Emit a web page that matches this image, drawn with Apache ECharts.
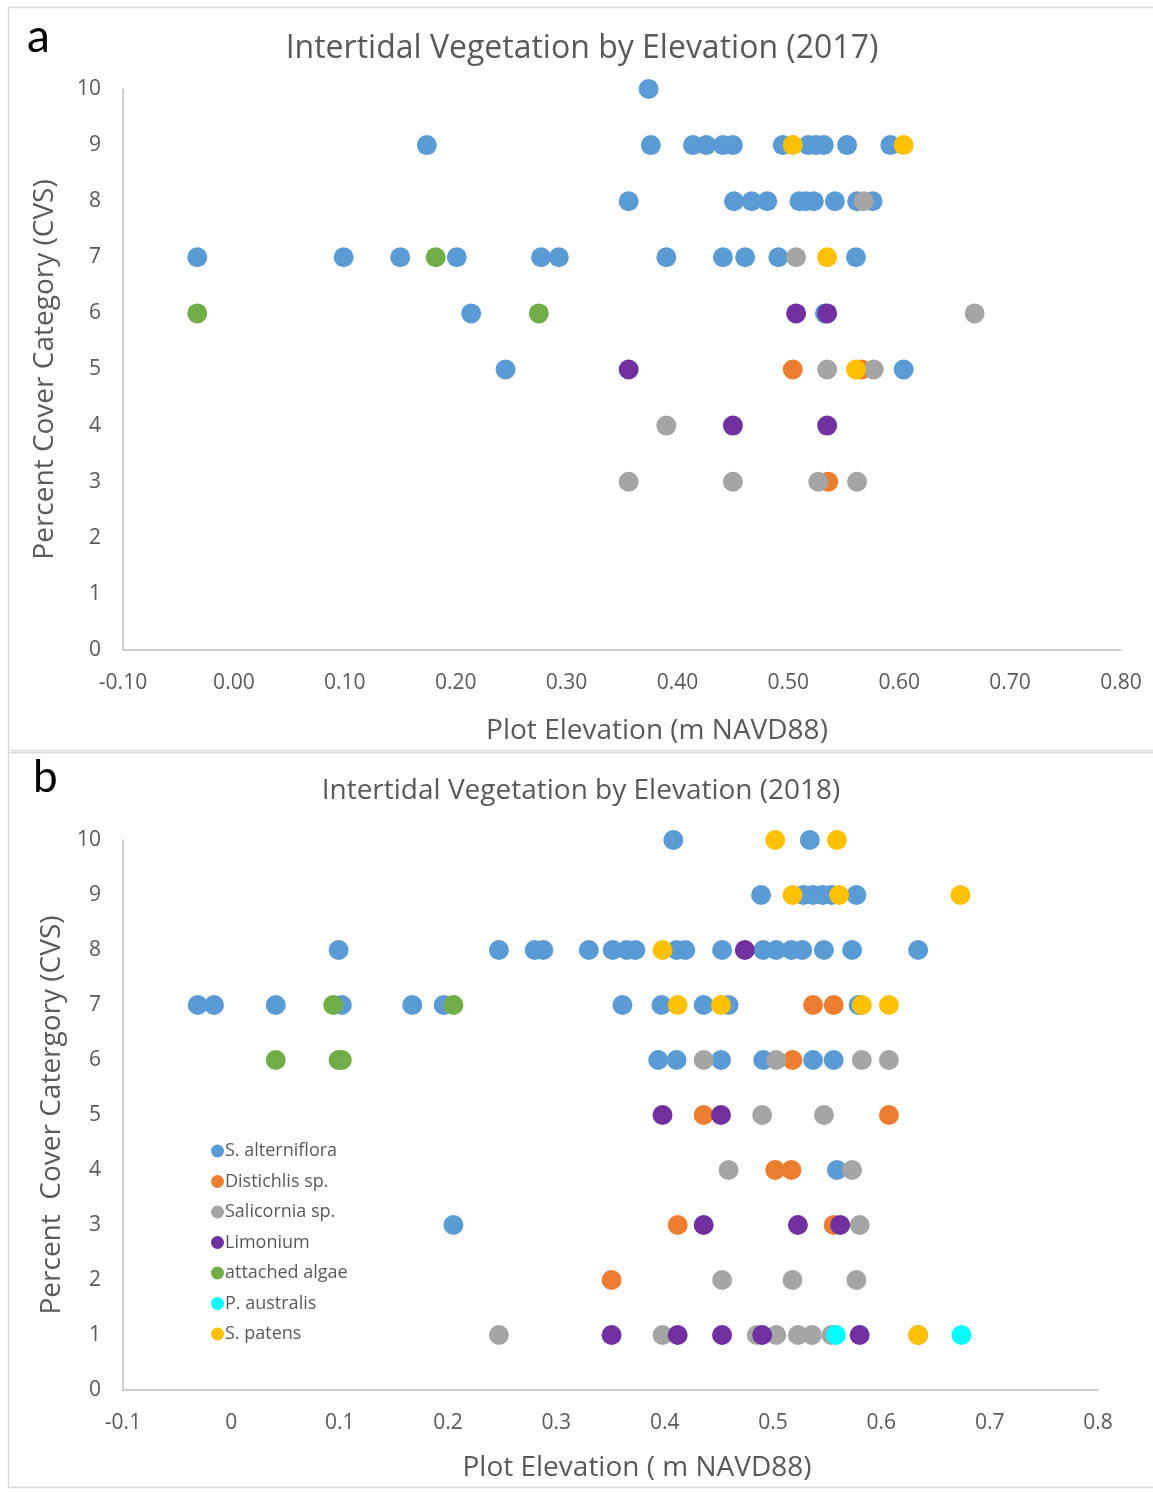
<!DOCTYPE html>
<html>
<head>
<meta charset="utf-8">
<script src="https://cdn.jsdelivr.net/npm/echarts@6/dist/echarts.min.js"></script>
<style>
  html, body { margin: 0; padding: 0; background: #ffffff; }
  #chart { width: 1153px; height: 1492px; }
</style>
</head>
<body>
<div id="chart"></div>
<script>
// Species names (legend order = drawing order)
const speciesNames = ['S. alterniflora', 'Distichlis sp.', 'Salicornia sp.', 'Limonium', 'attached algae', 'P. australis', 'S. patens'];
const speciesColors = ['#5B9BD5', '#ED7D31', '#A5A5A5', '#7030A0', '#70AD47', '#00FFFF', '#FFC000'];

// Axis ticks
const yTicks = [0, 1, 2, 3, 4, 5, 6, 7, 8, 9, 10];
const xTicks = [-0.1, 0, 0.1, 0.2, 0.3, 0.4, 0.5, 0.6, 0.7, 0.8];

// 2017 survey: [elevation (m NAVD88), cover class]
const alterniflora2017 = [
  [0.374, 10],
  [0.174, 9], [0.376, 9], [0.414, 9], [0.426, 9], [0.441, 9], [0.450, 9], [0.495, 9], [0.518, 9], [0.525, 9], [0.532, 9], [0.553, 9], [0.592, 9],
  [0.356, 8], [0.451, 8], [0.467, 8], [0.481, 8], [0.510, 8], [0.516, 8], [0.523, 8], [0.542, 8], [0.562, 8], [0.576, 8],
  [-0.033, 7], [0.099, 7], [0.150, 7], [0.201, 7], [0.277, 7], [0.293, 7], [0.390, 7], [0.441, 7], [0.461, 7], [0.491, 7], [0.561, 7],
  [0.214, 6], [0.533, 6],
  [0.245, 5], [0.604, 5]
];
const distichlis2017 = [[0.504, 5], [0.566, 5], [0.536, 3]];
const salicornia2017 = [[0.568, 8], [0.507, 7], [0.668, 6], [0.535, 5], [0.577, 5], [0.390, 4], [0.356, 3], [0.450, 3], [0.527, 3], [0.562, 3]];
const limonium2017 = [[0.507, 6], [0.535, 6], [0.356, 5], [0.450, 4], [0.535, 4]];
const algae2017 = [[0.182, 7], [-0.033, 6], [0.275, 6]];
const australis2017 = [];
const patens2017 = [[0.504, 9], [0.604, 9], [0.535, 7], [0.561, 5]];

// 2018 survey
const alterniflora2018 = [
  [0.408, 10], [0.534, 10],
  [0.489, 9], [0.528, 9], [0.537, 9], [0.546, 9], [0.554, 9], [0.577, 9],
  [0.099, 8], [0.247, 8], [0.280, 8], [0.288, 8], [0.330, 8], [0.352, 8], [0.365, 8], [0.373, 8], [0.411, 8], [0.419, 8], [0.453, 8],
  [0.491, 8], [0.503, 8], [0.517, 8], [0.527, 8], [0.547, 8], [0.573, 8], [0.634, 8],
  [-0.031, 7], [-0.016, 7], [0.041, 7], [0.102, 7], [0.167, 7], [0.196, 7], [0.361, 7], [0.397, 7], [0.436, 7], [0.459, 7], [0.579, 7],
  [0.394, 6], [0.411, 6], [0.452, 6], [0.491, 6], [0.537, 6], [0.556, 6],
  [0.559, 4],
  [0.205, 3]
];
const distichlis2018 = [[0.537, 7], [0.556, 7], [0.518, 6], [0.436, 5], [0.607, 5], [0.502, 4], [0.517, 4], [0.412, 3], [0.556, 3], [0.351, 2]];
const salicornia2018 = [
  [0.436, 6], [0.503, 6], [0.582, 6], [0.607, 6],
  [0.490, 5], [0.547, 5],
  [0.459, 4], [0.573, 4],
  [0.580, 3],
  [0.453, 2], [0.518, 2], [0.577, 2],
  [0.247, 1], [0.398, 1], [0.485, 1], [0.503, 1], [0.523, 1], [0.536, 1], [0.554, 1], [0.634, 1]
];
const limonium2018 = [[0.474, 8], [0.398, 5], [0.452, 5], [0.436, 3], [0.523, 3], [0.562, 3], [0.351, 1], [0.412, 1], [0.453, 1], [0.490, 1], [0.580, 1]];
const algae2018 = [[0.094, 7], [0.205, 7], [0.041, 6], [0.099, 6], [0.102, 6]];
const australis2018 = [[0.558, 1], [0.674, 1]];
const patens2018 = [[0.502, 10], [0.559, 10], [0.518, 9], [0.561, 9], [0.673, 9], [0.398, 8], [0.412, 7], [0.452, 7], [0.582, 7], [0.607, 7], [0.634, 1]];

const data2017 = [alterniflora2017, distichlis2017, salicornia2017, limonium2017, algae2017, australis2017, patens2017];
const data2018 = [alterniflora2018, distichlis2018, salicornia2018, limonium2018, algae2018, australis2018, patens2018];

const FONT = '"Open Sans", Lato, sans-serif';
const TXT = '#595959';
const AXIS_LINE = '#BFBFBF';

function makeSeries(sets, idx) {
  return sets.map((pts, i) => ({
    name: speciesNames[i],
    type: 'scatter',
    xAxisIndex: idx,
    yAxisIndex: idx,
    symbol: 'circle',
    symbolSize: 20,
    itemStyle: { color: speciesColors[i], opacity: 1 },
    emphasis: { disabled: true },
    data: pts
  }));
}

function xAxisCfg(gridIndex, digits, name, nameGap, padLeft) {
  return {
    type: 'value', gridIndex: gridIndex,
    min: xTicks[0], max: xTicks[xTicks.length - 1], interval: 0.1,
    axisLine: { show: true, onZero: false, lineStyle: { color: AXIS_LINE, width: 1.5 } },
    axisTick: { show: false },
    splitLine: { show: false },
    axisLabel: {
      color: TXT, fontFamily: FONT, fontSize: 21, margin: 23,
      formatter: v => {
        const r = Math.round(v * 10) / 10;
        if (digits === 1 && r === 0) return '0';
        return r.toFixed(digits);
      }
    },
    name: name, nameLocation: 'middle', nameGap: nameGap,
    nameTextStyle: { color: TXT, fontFamily: FONT, fontSize: 28, padding: [0, 0, 0, padLeft] }
  };
}

function yAxisCfg(gridIndex, name, nameGap) {
  return {
    type: 'value', gridIndex: gridIndex,
    min: yTicks[0], max: yTicks[yTicks.length - 1], interval: 1,
    axisLine: { show: true, onZero: false, lineStyle: { color: AXIS_LINE, width: 1.5 } },
    axisTick: { show: false },
    splitLine: { show: false },
    axisLabel: { color: TXT, fontFamily: FONT, fontSize: 21, margin: 22 },
    name: name, nameLocation: 'middle', nameGap: nameGap, nameRotate: 90,
    nameTextStyle: { color: TXT, fontFamily: FONT, fontSize: 28 }
  };
}

const chart = echarts.init(document.getElementById('chart'), null, { renderer: 'canvas' });

chart.setOption({
  animation: false,
  backgroundColor: '#ffffff',
  title: [
    { text: 'Intertidal Vegetation by Elevation (2017)', left: 577, top: 28, textAlign: 'center',
      textStyle: { color: TXT, fontFamily: FONT, fontSize: 32, fontWeight: 'normal' } },
    { text: 'Intertidal Vegetation by Elevation (2018)', left: 576, top: 772, textAlign: 'center',
      textStyle: { color: TXT, fontFamily: FONT, fontSize: 28, fontWeight: 'normal' } }
  ],
  graphic: [
    { type: 'rect', shape: { x: 8.5, y: 7.5, width: 1160, height: 743 }, style: { fill: 'none', stroke: '#D9D9D9', lineWidth: 1.5 }, silent: true },
    { type: 'rect', shape: { x: 8.5, y: 752.5, width: 1160, height: 735 }, style: { fill: 'none', stroke: '#D9D9D9', lineWidth: 1.5 }, silent: true },
    { type: 'text', left: 27, top: 14, style: { text: 'a', fill: '#000000', font: '46px Lato, sans-serif' }, silent: true },
    { type: 'text', left: 33, top: 756, style: { text: 'b', fill: '#000000', font: '44px Lato, sans-serif' }, silent: true }
  ],
  legend: {
    data: speciesNames,
    orient: 'vertical',
    left: 206,
    top: 1137,
    icon: 'circle',
    itemWidth: 13,
    itemHeight: 13,
    itemGap: 12.5,
    selectedMode: false,
    textStyle: { color: TXT, fontFamily: FONT, fontSize: 18, lineHeight: 17, padding: [0, 0, 0, -4] }
  },
  grid: [
    { left: 123, top: 89, width: 998, height: 561 },
    { left: 123, top: 840, width: 975, height: 550 }
  ],
  xAxis: [
    xAxisCfg(0, 2, 'Plot Elevation (m NAVD88)', 67, 70),
    xAxisCfg(1, 1, 'Plot Elevation ( m NAVD88)', 64, 53)
  ],
  yAxis: [
    yAxisCfg(0, 'Percent Cover Category (CVS)', 64),
    yAxisCfg(1, 'Percent  Cover Catergory (CVS)', 57)
  ],
  series: makeSeries(data2017, 0).concat(makeSeries(data2018, 1))
});
</script>
</body>
</html>
